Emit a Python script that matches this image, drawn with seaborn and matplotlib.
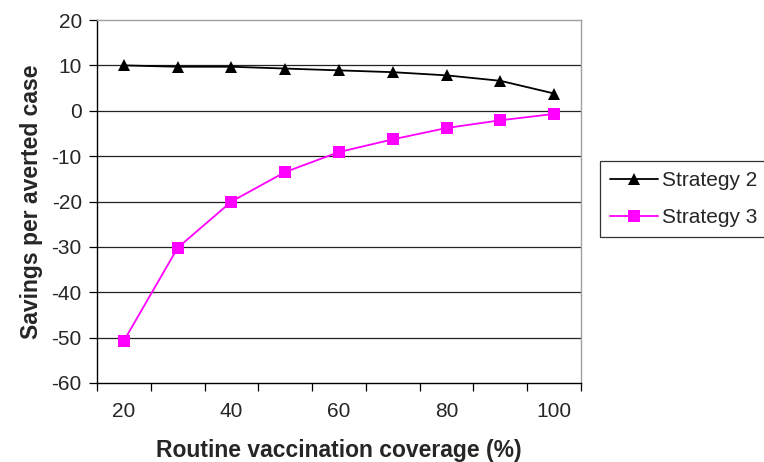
import pandas as pd
import matplotlib.pyplot as plt
import seaborn as sns

coverage = [20, 30, 40, 50, 60, 70, 80, 90, 100]
strategy2 = [10.0, 9.7, 9.7, 9.3, 8.9, 8.5, 7.8, 6.6, 3.8]
strategy3 = [-50.7, -30.2, -20.0, -13.5, -9.1, -6.3, -3.8, -2.1, -0.7]
series_names = ['Strategy 2', 'Strategy 3']
x_labels = [20, 40, 60, 80, 100]
y_ticks = [-60, -50, -40, -30, -20, -10, 0, 10, 20]

df = pd.concat([
    pd.DataFrame({'coverage': coverage, 'savings': strategy2, 'strategy': series_names[0]}),
    pd.DataFrame({'coverage': coverage, 'savings': strategy3, 'strategy': series_names[1]}),
])

sns.set_style('white')
plt.rcParams['font.family'] = ['Liberation Sans', 'DejaVu Sans']
plt.rcParams['axes.unicode_minus'] = False

fig = plt.figure(figsize=(7.64, 4.62), dpi=100)
ax = fig.add_axes([0.127, 0.171, 0.6335, 0.7857])

# gridlines
for y in y_ticks[1:-1]:
    ax.axhline(y, color='#222222', lw=0.9, zorder=0)

sns.lineplot(data=df, x='coverage', y='savings', hue='strategy', style='strategy',
             markers=['^', 's'], dashes=False, palette=['black', '#ff00ff'],
             markersize=8.5, markeredgewidth=0, linewidth=1.3, ax=ax)

ax.set_ylim(-60, 20)
ax.set_yticks(y_ticks)
ax.set_xlim(15, 105)
ax.set_xticks([c - 5 for c in coverage] + [coverage[-1] + 5])
ax.set_xticklabels([])
ax.set_xticks(x_labels, minor=True)
ax.set_xticklabels([str(v) for v in x_labels], minor=True)
ax.tick_params(axis='x', which='major', direction='out', length=6, width=0.9, color='black', bottom=True)
ax.tick_params(axis='x', which='minor', length=0, pad=14, labelsize=15)
ax.tick_params(axis='y', direction='out', length=6, width=0.9, color='black', left=True, labelsize=15, pad=5)

for side in ['left', 'bottom']:
    ax.spines[side].set_color('black')
    ax.spines[side].set_linewidth(1.0)
for side in ['top', 'right']:
    ax.spines[side].set_color('#a0a0a0')
    ax.spines[side].set_linewidth(1.0)

ax.set_xlabel('Routine vaccination coverage (%)', fontsize=16.5, fontweight='bold', labelpad=13)
ax.set_ylabel('Savings per averted case', fontsize=16.5, fontweight='bold', labelpad=6)

handles, labels = ax.get_legend_handles_labels()
leg = ax.legend(handles, labels, loc='upper left', bbox_to_anchor=(1.039, 0.612),
                borderaxespad=0, frameon=True, fancybox=False, edgecolor='black',
                fontsize=15, handlelength=2.3, labelspacing=0.85, handletextpad=0.2,
                borderpad=0.5)
leg.get_frame().set_linewidth(0.9)

fig.savefig('out.png', dpi=100)
